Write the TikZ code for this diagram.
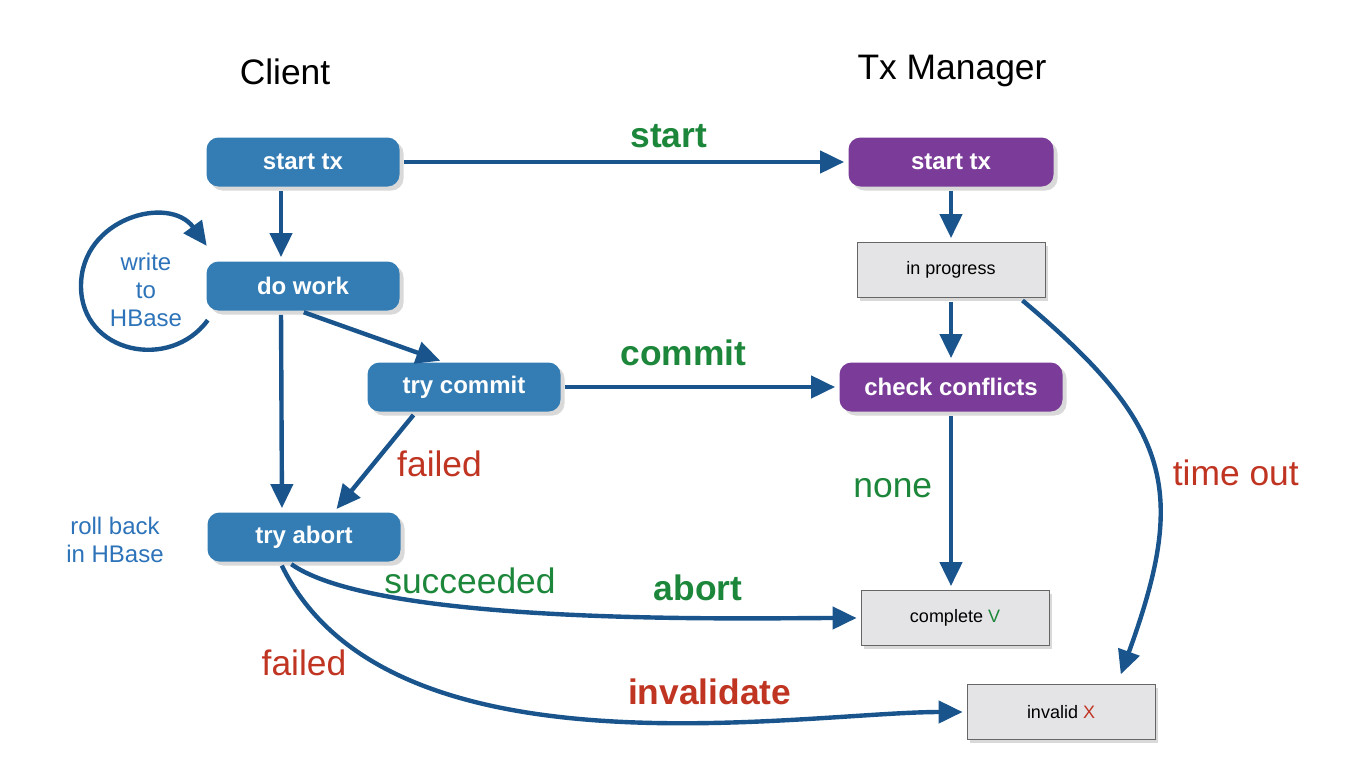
\documentclass[tikz,border=0pt]{standalone}
\usepackage{fontspec}
\setmainfont{Liberation Sans}
\usepackage{tikz}
\usetikzlibrary{arrows.meta,shadows}

\definecolor{boxblue}{RGB}{52,125,180}
\definecolor{boxpurple}{RGB}{122,60,152}
\definecolor{arrowblue}{RGB}{25,84,140}
\definecolor{labgreen}{RGB}{28,135,58}
\definecolor{labred}{RGB}{192,52,34}
\definecolor{noteblue}{RGB}{45,115,185}
\definecolor{stategray}{RGB}{228,228,230}

\tikzset{
  client/.style={rounded corners=6pt,fill=boxblue,text=white,
    font=\bfseries\fontsize{12}{14}\selectfont,
    minimum width=96.5pt,minimum height=24.5pt,
    drop shadow={shadow xshift=2pt,shadow yshift=-2pt,opacity=.3}},
  manager/.style={client,fill=boxpurple},
  state/.style={draw=black!60,fill=stategray,font=\fontsize{9}{11}\selectfont,
    minimum width=94pt,minimum height=27.5pt,
    drop shadow={shadow xshift=1.5pt,shadow yshift=-1.5pt,opacity=.3}},
  flow/.style={draw,-{Stealth[inset=0pt,length=12pt,width=11pt]},line width=2.2pt,
    draw=arrowblue,shorten >=2pt,shorten <=2pt},
  ok/.style={text=labgreen,font=\fontsize{17.7}{20}\selectfont},
  bad/.style={text=labred,font=\fontsize{17.7}{20}\selectfont},
  bold/.style={font=\bfseries\fontsize{17.7}{20}\selectfont},
  note/.style={text=noteblue,align=center,font=\fontsize{12}{14}\selectfont},
  title/.style={font=\fontsize{17.7}{20}\selectfont}
}

\begin{document}
\begin{tikzpicture}[x=0.5pt,y=-0.5pt]
\useasboundingbox (0,0) rectangle (1368,781);

\node[title] (tclient) at (285,72) {Client};
\node[title] (tmanager) at (952,71) {Tx Manager};

\node[client] (cstart) at (303,162) {start tx};
\node[client] (dowork) at (303,286) {do work};
\node[client] (trycommit) at (464,387) {try commit};
\node[client] (tryabort) at (304,537) {try abort};

\node[manager,minimum width=102.5pt] (mstart) at (951,162) {start tx};
\node[state] (inprog) at (951,270) {in progress};
\node[manager,minimum width=111.5pt] (check) at (951,387) {check conflicts};
\node[state] (complete) at (955,618) {complete {\color{labgreen}V}};
\node[state] (invalid) at (1061,712) {invalid {\color{labred}X}};

\node[note] (writenote) at (146,290) {write\\to\\HBase};
\node[note] (rollnote) at (115,540) {roll back\\in HBase};

\coordinate (loopwest) at (81,286);

\path[every edge/.style={flow}]
(cstart) edge node [ok,bold,above=2.5pt,pos=.6] {start} (mstart)
([xshift=-11pt]cstart.south) edge ([xshift=-11pt]dowork.north)
([xshift=-11pt]dowork.south) edge ([xshift=-11pt]tryabort.north)
([xshift=-1.5pt]dowork.south) edge ([xshift=-10pt]trycommit.north)
(trycommit) edge node [ok,bold,above=6pt,pos=.44] {commit} (check)
([xshift=-24pt]trycommit.south) edge node [bad,right=7.5pt,pos=.52] {failed} ([xshift=15pt]tryabort.north)
(mstart) edge (inprog)
(inprog) edge (check)
(check) edge node [ok,left=5pt,pos=.43] {none} (check |- complete.north)
([xshift=-13pt]inprog.south east) edge [out=-40,in=70,looseness=1.3]
  node [bad,right=5pt,pos=.52] {time out} ([shift={(-18pt,3pt)}]invalid.north east)
([xshift=-8pt]tryabort.south) edge [out=-35,in=180,looseness=.5]
  node [ok,above=2pt,pos=.36] {succeeded}
  node [ok,bold,above=4pt,pos=.69] {abort} (complete)
([xshift=-12pt]tryabort.south) edge [out=-64,in=180,out looseness=.9,in looseness=.6]
  node [bad,left=11pt,pos=.2] {failed}
  node [bad,bold,above=4.5pt,pos=.63] {invalidate} (invalid);

% loop round the note
\draw[flow] ([shift={(2pt,-3pt)}]dowork.south west) to[out=-126,in=-90,looseness=1.3] (loopwest)
  to[out=90,in=126,looseness=1.3] ([shift={(1.5pt,6pt)}]dowork.north west);
\end{tikzpicture}
\end{document}
